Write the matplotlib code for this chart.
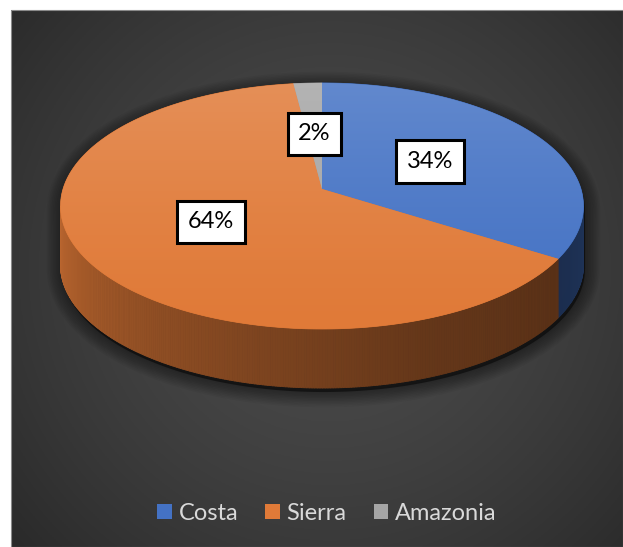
import numpy as np
import matplotlib
matplotlib.use('Agg')
import matplotlib.pyplot as plt
from matplotlib.patches import Polygon, Patch, Rectangle
from matplotlib.collections import PolyCollection
from matplotlib.colors import to_rgb

regions = ['Costa', 'Sierra', 'Amazonia']
shares = [34, 64, 2]
labels = ['34%', '64%', '2%']
colors = ['#4472C4', '#E07A38', '#A5A5A5']

W, H = 623, 547
# projected pie geometry (pixels), simple perspective on a tilted disc
CX, CY = 322, 189
A, B, K = 259, 120.7, 0.138
DEPTH = 59


def project(theta, r=1.0, drop=0.0):
    #theta in degrees, clockwise from 12 o'clock
    t = np.radians(theta)
    X = r * np.sin(t)
    Z = r * np.cos(t)
    d = 1 + K * Z
    return CX + A * X / d, CY - B * Z / d + drop


def shade(theta):
    #how lit the side wall is at this angle
    return np.interp(theta, [90, 125, 160, 210, 270], [0.46, 0.40, 0.45, 0.62, 0.86])


fig = plt.figure(figsize=(W / 100, H / 100), dpi=100)
fig.patch.set_facecolor('white')
ax = fig.add_axes([0, 0, 1, 1])
ax.set_xlim(0, W)
ax.set_ylim(H, 0)
ax.axis('off')

#dark radial background of the chart area
px0, px1, py0, py1 = 11, 623, 10, 547
gx, gy = np.meshgrid(np.linspace(px0, px1, 300), np.linspace(py0, py1, 260))
rr = np.sqrt(((gx - 330) / 420) ** 2 + ((gy - 270) / 420) ** 2)
rr = np.clip(rr, 0, 1)
lvl = 0.295 - 0.13 * rr ** 1.5
ax.imshow(np.dstack([lvl, lvl, lvl]), extent=[px0, px1, py1, py0], aspect='auto', zorder=0)
ax.add_patch(Rectangle((px0, py0), px1 - px0, py1 - py0, fill=False, edgecolor='#8a8a8a', lw=0.8, zorder=1))

#slice angles
ends = np.cumsum(shares) / sum(shares) * 360
starts = np.concatenate([[0], ends[:-1]])
th_r = np.degrees(np.arccos(-K))
th_l = 360 - th_r

#shadow under the pie
top_arc = np.linspace(th_l, th_r + 360, 200)
bot_arc = np.linspace(th_r, th_l, 200)
sx1, sy1 = project(top_arc)
sx2, sy2 = project(bot_arc, drop=DEPTH)
sil = np.column_stack([np.concatenate([sx1, sx2]), np.concatenate([sy1, sy2])])
for i in range(10):
    ax.add_patch(Polygon(sil + [1.5, 4], closed=True, facecolor='none', edgecolor='black',
                         lw=2 + 2.2 * i, alpha=0.045, joinstyle='round', zorder=2))
ax.add_patch(Polygon(sil + [1.5, 4], closed=True, facecolor='black', alpha=0.5, zorder=2))

#side walls
for s, e, c in zip(starts, ends, colors):
    a0, a1 = max(s, th_r), min(e, th_l)
    if a1 <= a0:
        continue
    ts = np.linspace(a0, a1, max(int(a1 - a0) * 2, 2))
    quads, fcs = [], []
    base = np.array(to_rgb(c))
    for t0, t1 in zip(ts[:-1], ts[1:]):
        x0, y0 = project(t0)
        x1, y1 = project(t1)
        quads.append([(x0, y0), (x1, y1), (x1, y1 + DEPTH), (x0, y0 + DEPTH)])
        fcs.append(base * shade((t0 + t1) / 2))
    ax.add_collection(PolyCollection(quads, facecolors=fcs, edgecolors=fcs, lw=0.6, zorder=3))

#top faces with a soft vertical highlight
ytop, ybot = CY - B / (1 + K), CY + B / (1 - K)
grad = np.linspace(0, 1, 200)[:, None]
for s, e, c in zip(starts, ends, colors):
    ts = np.linspace(s, e, max(int((e - s) * 2), 4))
    xs, ys = project(ts)
    pts = np.vstack([[CX, CY], np.column_stack([xs, ys])])
    poly = Polygon(pts, closed=True, facecolor=c, edgecolor=c, lw=0.5, zorder=4)
    ax.add_patch(poly)
    base = np.array(to_rgb(c))
    amt = 0.16 * (1 - grad) ** 1.3
    img = base[None, None, :] + (1 - base[None, None, :]) * amt[:, :, None]
    im = ax.imshow(img, extent=[CX - A * 1.05, CX + A * 1.05, ybot, ytop], aspect='auto', zorder=5)
    im.set_clip_path(poly)

#data labels
for s, e, lab in zip(starts, ends, labels):
    lx, ly = project((s + e) / 2, r=0.49)
    ax.text(lx, ly, lab, ha='center', va='center', fontsize=17, family='Lato', color='black', zorder=6,
            bbox=dict(boxstyle='square,pad=0.45', facecolor='white', edgecolor='black', lw=2.2))

handles = [Patch(facecolor=c, edgecolor='none', label=r) for r, c in zip(regions, colors)]
leg = ax.legend(handles=handles, loc='center', bbox_to_anchor=(327 / W, 1 - 513 / H), ncol=3,
                frameon=False, handlelength=0.6, handleheight=0.6,
                handletextpad=0.3, columnspacing=1.15, prop={'family': 'Lato', 'size': 17})
for t in leg.get_texts():
    t.set_color('#d9d9d9')

fig.savefig('out.png', dpi=100, facecolor=fig.get_facecolor())
